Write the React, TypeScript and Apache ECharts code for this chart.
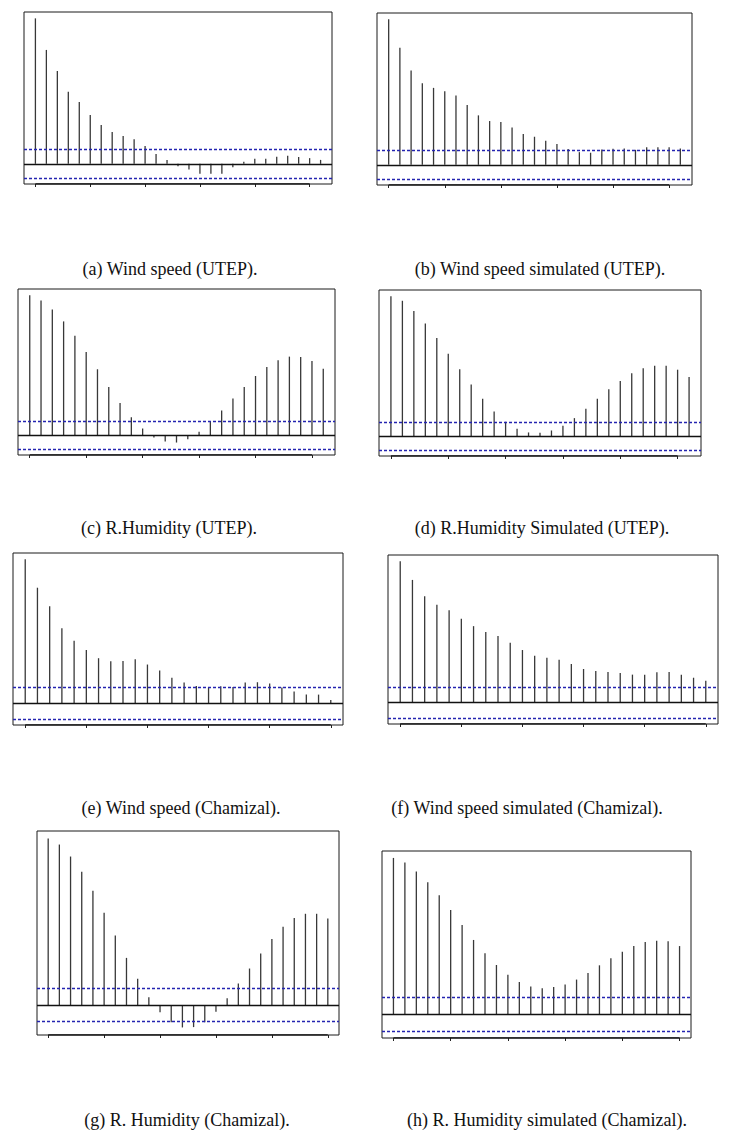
import React, { useEffect, useRef } from "react";
import * as echarts from "echarts";

// ACF values (lag 0 .. N)
const acfWindUTEP = [1, 0.783, 0.639, 0.495, 0.425, 0.336, 0.267, 0.219, 0.192, 0.169, 0.123, 0.068, 0.027, -0.016, -0.039, -0.068, -0.068, -0.068, -0.023, 0.014, 0.034, 0.034, 0.048, 0.055, 0.046, 0.039, 0.027];
const acfWindUTEPSim = [1, 0.805, 0.648, 0.561, 0.529, 0.506, 0.476, 0.411, 0.34, 0.301, 0.294, 0.257, 0.211, 0.193, 0.166, 0.143, 0.108, 0.087, 0.083, 0.106, 0.11, 0.113, 0.103, 0.12, 0.12, 0.12, 0.113];
const acfRhUTEP = [1, 0.962, 0.898, 0.813, 0.711, 0.595, 0.472, 0.346, 0.232, 0.13, 0.05, -0.014, -0.043, -0.05, -0.026, 0.026, 0.097, 0.178, 0.263, 0.346, 0.424, 0.488, 0.536, 0.562, 0.559, 0.531, 0.476];
const acfRhUTEPSim = [1, 0.967, 0.895, 0.805, 0.702, 0.59, 0.479, 0.371, 0.269, 0.179, 0.105, 0.055, 0.029, 0.026, 0.043, 0.076, 0.131, 0.198, 0.269, 0.336, 0.395, 0.45, 0.486, 0.505, 0.505, 0.476, 0.424];
const acfWindCham = [1, 0.803, 0.674, 0.521, 0.435, 0.37, 0.313, 0.292, 0.294, 0.306, 0.269, 0.227, 0.178, 0.144, 0.12, 0.109, 0.118, 0.113, 0.144, 0.146, 0.137, 0.109, 0.081, 0.06, 0.06, 0.023];
const acfWindChamSim = [1, 0.868, 0.753, 0.692, 0.654, 0.593, 0.541, 0.499, 0.471, 0.424, 0.372, 0.332, 0.318, 0.304, 0.273, 0.238, 0.224, 0.216, 0.209, 0.198, 0.198, 0.214, 0.216, 0.198, 0.176, 0.155];
const acfRhCham = [1, 0.964, 0.892, 0.801, 0.687, 0.554, 0.418, 0.283, 0.157, 0.046, -0.044, -0.104, -0.135, -0.133, -0.104, -0.04, 0.04, 0.129, 0.219, 0.309, 0.396, 0.47, 0.522, 0.548, 0.548, 0.52];
const acfRhChamSim = [1, 0.97, 0.913, 0.845, 0.762, 0.667, 0.571, 0.476, 0.391, 0.316, 0.253, 0.208, 0.178, 0.168, 0.176, 0.191, 0.223, 0.265, 0.314, 0.359, 0.401, 0.437, 0.463, 0.471, 0.467, 0.437];

// confidence bounds (blue dotted lines)
const ciValues = [0.095, 0.095, 0.095, 0.095, 0.107, 0.107, 0.105, 0.106];

const captions = [
  "(a) Wind speed (UTEP).",
  "(b) Wind speed simulated (UTEP).",
  "(c) R.Humidity (UTEP).",
  "(d) R.Humidity Simulated (UTEP).",
  "(e) Wind speed (Chamizal).",
  "(f) Wind speed simulated (Chamizal).",
  "(g) R. Humidity (Chamizal).",
  "(h) R. Humidity simulated (Chamizal).",
];

const tickLags = [0, 5, 10, 15, 20, 25];

const seriesList = [acfWindUTEP, acfWindUTEPSim, acfRhUTEP, acfRhUTEPSim, acfWindCham, acfWindChamSim, acfRhCham, acfRhChamSim];

// layout (pixels)
const panelBoxes = [
  { left: 24, top: 12, width: 308, height: 172 },
  { left: 377, top: 13, width: 315, height: 172 },
  { left: 18, top: 289, width: 317, height: 166 },
  { left: 379, top: 290, width: 322, height: 166 },
  { left: 13, top: 553, width: 330, height: 172 },
  { left: 388, top: 555, width: 330, height: 169 },
  { left: 37, top: 831, width: 302, height: 204 },
  { left: 382, top: 851, width: 309, height: 187 },
];
const captionPos = [
  { x: 170, y: 269 },
  { x: 540, y: 269 },
  { x: 169, y: 528 },
  { x: 542, y: 528 },
  { x: 181, y: 808 },
  { x: 527, y: 808 },
  { x: 187, y: 1120 },
  { x: 547, y: 1120 },
];

export default function App() {
  const ref = useRef<HTMLDivElement>(null);
  useEffect(() => {
    if (!ref.current) return;
    const chart = echarts.init(ref.current, null, { renderer: "svg" });
    const grids: any[] = [];
    const xAxes: any[] = [];
    const yAxes: any[] = [];
    const series: any[] = [];
    seriesList.forEach((vals, i) => {
      const n = vals.length - 1;
      const ci = ciValues[i];
      const lo = Math.min(...vals, -ci);
      const hi = Math.max(...vals, ci);
      const pad = (hi - lo) * 0.04;
      const ymin = lo - pad;
      const ymax = hi + pad;
      const b = panelBoxes[i];
      grids.push({
        left: b.left,
        top: b.top,
        width: b.width,
        height: b.height,
        show: true,
        borderColor: "#1a1a1a",
        borderWidth: 1,
        backgroundColor: "transparent",
      });
      xAxes.push({
        type: "value",
        gridIndex: i,
        position: "bottom",
        min: -0.04 * n,
        max: 1.04 * n,
        axisLine: { show: false, onZero: false },
        axisLabel: { show: false },
        splitLine: { show: false },
        axisTick: { show: true, customValues: tickLags, length: 3, lineStyle: { color: "#222", width: 1 } },
      });
      yAxes.push({
        type: "value",
        gridIndex: i,
        min: ymin,
        max: ymax,
        show: false,
        splitLine: { show: false },
      });
      series.push({
        type: "bar",
        xAxisIndex: i,
        yAxisIndex: i,
        barWidth: 1.3,
        silent: true,
        itemStyle: { color: "#383838" },
        data: vals.map((v, k) => [k, v]),
        markLine: {
          silent: true,
          symbol: "none",
          label: { show: false },
          data: [
            { yAxis: 0, lineStyle: { color: "#111", width: 1.3, type: "solid" } },
            { yAxis: ci, lineStyle: { color: "#2424b0", width: 1.3, type: [3, 2] } },
            { yAxis: -ci, lineStyle: { color: "#2424b0", width: 1.3, type: [3, 2] } },
          ],
        },
      });
      series.push({
        type: "line",
        xAxisIndex: i,
        yAxisIndex: i,
        silent: true,
        symbol: "none",
        lineStyle: { color: "#111", width: 1.5 },
        data: [
          [tickLags[0], ymin],
          [tickLags[tickLags.length - 1], ymin],
        ],
      });
    });
    const graphic = captions.map((t, i) => ({
      type: "text",
      x: captionPos[i].x,
      y: captionPos[i].y,
      style: {
        text: t,
        fill: "#111",
        font: '18px "Liberation Serif", "Times New Roman", serif',
        textAlign: "center",
        textVerticalAlign: "middle",
      },
    }));
    chart.setOption({
      animation: false,
      backgroundColor: "#ffffff",
      grid: grids,
      xAxis: xAxes,
      yAxis: yAxes,
      series,
      graphic,
    });
    return () => chart.dispose();
  }, []);
  return (
    <div
      ref={ref}
      style={{ position: "fixed", left: 0, top: 0, width: 733, height: 1143, background: "#fff" }}
    />
  );
}
